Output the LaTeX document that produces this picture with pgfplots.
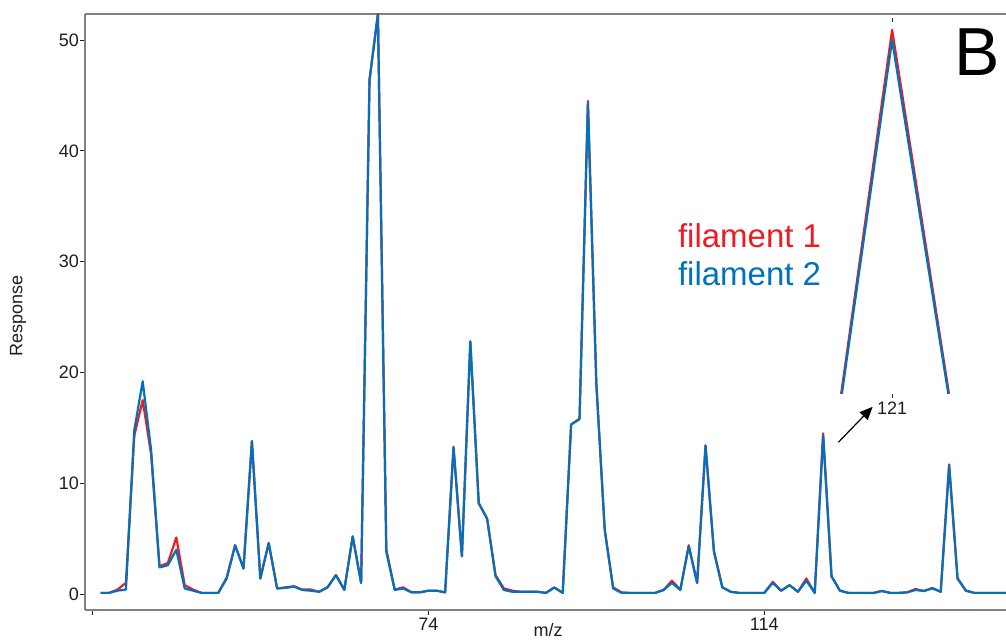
\documentclass[border=0pt]{standalone}
\usepackage{pgfplots}
\pgfplotsset{compat=1.18}
\usepackage{pgfplotstable}
\usepackage{fontspec}
\setmainfont{Liberation Sans}
\usetikzlibrary{arrows.meta}
\definecolor{fred}{RGB}{237,28,36}
\definecolor{fblue}{RGB}{0,114,189}
\definecolor{axgray}{RGB}{128,128,128}
\definecolor{txt}{RGB}{30,30,30}

\pgfplotstableread{
mz red blue
35 0.1 0.1
36 0.1 0.1
37 0.4 0.3
38 1.0 0.4
39 14.3 14.8
40 17.5 19.2
41 12.6 13.0
42 2.5 2.4
43 2.8 2.6
44 5.1 4.0
45 0.8 0.5
46 0.4 0.3
47 0.1 0.1
48 0.1 0.1
49 0.1 0.1
50 1.5 1.4
51 4.4 4.4
52 2.3 2.3
53 13.8 13.8
54 1.4 1.4
55 4.6 4.6
56 0.5 0.5
57 0.6 0.55
58 0.7 0.66
59 0.4 0.36
60 0.4 0.3
61 0.2 0.2
62 0.6 0.6
63 1.7 1.7
64 0.4 0.36
65 5.2 5.2
66 1.0 1.0
67 46.4 46.4
68 52.4 52.3
69 4.0 3.8
70 0.4 0.36
71 0.6 0.5
72 0.15 0.15
73 0.15 0.15
74 0.3 0.3
75 0.3 0.3
76 0.15 0.15
77 13.3 13.2
78 3.4 3.4
79 22.8 22.8
80 8.2 8.2
81 6.8 6.8
82 1.7 1.6
83 0.5 0.36
84 0.3 0.2
85 0.2 0.2
86 0.2 0.2
87 0.2 0.2
88 0.1 0.1
89 0.6 0.57
90 0.1 0.1
91 15.3 15.3
92 15.8 15.8
93 44.5 44.3
94 19.0 19.0
95 5.8 5.8
96 0.6 0.5
97 0.15 0.1
98 0.1 0.1
99 0.1 0.1
100 0.1 0.1
101 0.1 0.1
102 0.36 0.36
103 1.2 1.0
104 0.4 0.36
105 4.4 4.3
106 1.0 1.0
107 13.4 13.4
108 3.9 3.8
109 0.6 0.6
110 0.2 0.2
111 0.1 0.1
112 0.1 0.1
113 0.1 0.1
114 0.1 0.1
115 1.1 1.0
116 0.3 0.3
117 0.8 0.8
118 0.2 0.2
119 1.4 1.2
120 0.1 0.1
121 14.5 14.3
122 1.6 1.6
123 0.3 0.3
124 0.1 0.1
125 0.1 0.1
126 0.1 0.1
127 0.1 0.1
128 0.27 0.27
129 0.1 0.1
130 0.1 0.1
131 0.15 0.15
132 0.45 0.36
133 0.27 0.27
134 0.55 0.5
135 0.2 0.2
136 11.7 11.6
137 1.4 1.4
138 0.3 0.3
139 0.1 0.1
140 0.1 0.1
141 0.1 0.1
142 0.1 0.1
143 0.1 0.1
}\spectrum

\begin{document}
\begin{tikzpicture}
\begin{axis}[
  at={(0pt,0pt)}, anchor=south west,
  scale only axis, width=921pt, height=596pt,
  xmin=33.13, xmax=142.77, ymin=-1.444, ymax=52.35,
  axis x line*=box, axis y line*=left,
  axis line style={axgray, line width=1.5pt},
  xtick pos=left, ytick pos=left,
  tick align=outside, major tick length=5pt,
  tick style={txt, line width=0.8pt},
  xtick={34,74,114}, xticklabels={,74,114},
  ytick={0,10,20,30,40,50},
  /pgf/number format/assume math mode=true,
  ticklabel style={font=\fontsize{18}{18}\selectfont, text=txt},
  yticklabel style={inner sep=1pt},
  xlabel={m/z}, ylabel={Response},
  every axis x label/.style={at={(axis description cs:0.5,0)}, anchor=base, yshift=-26.5pt, xshift=2.5pt, font=\fontsize{18}{18}\selectfont, text=txt},
  every axis y label/.style={at={(axis description cs:0,0.5)}, xshift=-67pt, yshift=-4pt, rotate=90, anchor=center, font=\fontsize{18}{18}\selectfont, text=txt},
  line join=round,
]
\addplot[fred, line width=2.2pt] table[x=mz, y=red] {\spectrum};
\addplot[fblue, line width=2.2pt] table[x=mz, y=blue] {\spectrum};
\node[anchor=base west, inner sep=0, text=fred, font=\fontsize{33}{33}\selectfont] at (axis cs:103.7,31.3) {filament 1};
\node[anchor=base west, inner sep=0, text=fblue, font=\fontsize{33}{33}\selectfont] at (axis cs:103.7,27.8) {filament 2};
\node[anchor=base west, inner sep=0, text=black, font=\fontsize{68}{68}\selectfont] at (axis cs:136.65,46.84) {B};
\draw[-{Triangle[length=13pt,width=11pt]}, line width=1.2pt, black] (axis cs:122.81,13.69) -- (axis cs:126.9,16.9);
\end{axis}

\begin{axis}[
  at={(752pt,216pt)}, anchor=south west,
  scale only axis, width=115pt, height=372pt,
  xmin=120.45, xmax=121.6, ymin=7.16, ymax=14.66,
  axis x line*=box, axis y line=none,
  x axis line style={draw=none},
  xtick={121}, ytick=\empty,
  xtick pos=both,
  tick align=outside, major tick length=4pt,
  tick style={txt, line width=0.8pt},
  /pgf/number format/assume math mode=true,
  ticklabel style={font=\fontsize{18}{18}\selectfont, text=txt},
  line join=round,
]
\addplot[fred, line width=2.2pt] table[x=mz, y=red] {\spectrum};
\addplot[fblue, line width=2.2pt] table[x=mz, y=blue] {\spectrum};
\end{axis}
\pgfresetboundingbox
\useasboundingbox (-85pt,-31pt) rectangle (921pt,610pt);
\end{tikzpicture}
\end{document}
